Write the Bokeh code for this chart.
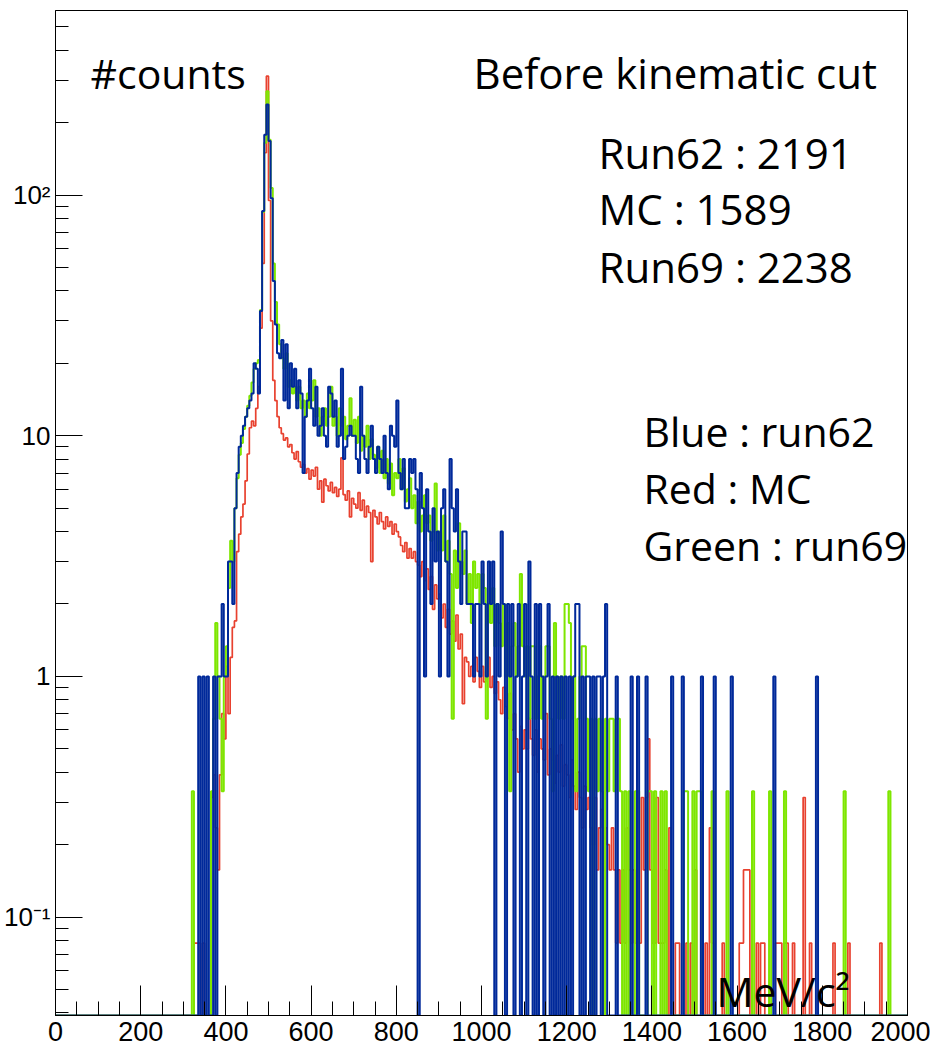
from bokeh.plotting import figure
from bokeh.models import Range1d, FixedTicker, Label
from bokeh.embed import file_html
from bokeh.resources import INLINE

# ---------------- data (5 MeV bins, listed from 300 MeV to 2000 MeV) ----------------
BIN_WIDTH = 5
FIRST_EDGE = 300
X_START, X_END = 0, 2000
Y_MIN, Y_MAX = 0.039, 585.0

# Blue : run62 (raw counts)
blue_counts = [
    0, 0, 0, 0, 0, 0, 0, 1, 0, 1, 0, 1, 0, 0, 1, 0, 1, 1, 2, 1,            # 300-395
    1, 3, 3, 2, 5, 7, 9, 10, 11, 12, 13, 14, 15, 20, 19, 15, 33, 86, 178, 238,  # 400-495
    168, 97, 44, 29, 22, 21, 25, 14, 24, 13, 20, 16, 19, 13, 17, 15, 7, 12, 14, 19,  # 500
    13, 11, 16, 10, 11, 13, 10, 9, 16, 15, 12, 14, 9, 10, 19, 8, 9, 10, 11, 10,  # 600
    10, 8, 7, 16, 10, 8, 7, 9, 11, 8, 7, 9, 8, 7, 10, 7, 6, 11, 10, 9,       # 700
    14, 7, 6, 8, 5, 5, 8, 7, 8, 6, 0, 7, 5, 1, 6, 4, 2, 5, 3, 4,             # 800
    1, 5, 6, 3, 1, 8, 5, 4, 6, 3, 2, 4, 4, 2, 2, 2, 1, 2, 2, 1,              # 900
    3, 2, 1, 3, 2, 3, 0, 2, 1, 4, 2, 0, 2, 1, 2, 0, 1, 2, 0, 1,              # 1000
    2, 0, 3, 1, 0, 2, 0, 2, 1, 0, 1, 2, 0, 1, 0, 1, 0, 1, 0, 1,              # 1100
    0, 1, 0, 1, 2, 2, 0, 1, 0, 1, 1, 0, 1, 0, 1, 1, 0, 1, 2, 0,              # 1200
    0, 0, 0, 1, 0, 0, 0, 0, 0, 0, 1, 0, 0, 1, 0, 0, 0, 1, 0, 0,              # 1300
    0, 0, 0, 0, 0, 0, 0, 0, 0, 1, 0, 0, 0, 0, 1, 0, 0, 0, 0, 0,              # 1400
    0, 0, 0, 1, 0, 0, 0, 0, 0, 1, 0, 0, 0, 0, 0, 0, 0, 1, 0, 0,              # 1500
    0, 0, 0, 0, 0, 0, 0, 0, 0, 0, 0, 0, 0, 0, 0, 0, 0, 1, 0, 0,              # 1600
    0, 0, 0, 0, 0, 0, 0, 0, 0, 0, 0, 0, 0, 0, 0, 0, 0, 1, 0, 0,              # 1700
    0, 0, 0, 0, 0, 0, 0, 0, 0, 0, 0, 0, 0, 0, 0, 0, 0, 0, 0, 0,              # 1800
    0, 0, 0, 0, 0, 0, 0, 0, 0, 0, 0, 0, 0, 0, 0, 0, 0, 0, 0, 0,              # 1900
]

# Green : run69 (raw counts, each entry weighted by GREEN_WEIGHT)
GREEN_WEIGHT = 1.0 / 3.0
green_counts = [
    0, 0, 0, 0, 1, 0, 0, 0, 0, 0, 0, 0, 0, 1, 2, 5, 3, 2, 1, 3,              # 300
    4, 7, 11, 9, 15, 20, 25, 28, 32, 36, 40, 44, 50, 57, 60, 62, 100, 255, 495, 810,  # 400
    510, 321, 156, 108, 87, 72, 63, 57, 66, 48, 51, 45, 48, 42, 48, 39, 42, 36, 45, 39,  # 500
    42, 51, 36, 39, 30, 36, 39, 33, 36, 48, 33, 36, 30, 39, 33, 36, 29, 33, 43, 30,  # 600
    35, 28, 36, 26, 30, 27, 33, 24, 29, 25, 22, 27, 21, 26, 20, 24, 19, 23, 17, 21,  # 700
    20, 24, 18, 22, 16, 18, 20, 15, 17, 13, 16, 12, 14, 17, 13, 14, 11, 12, 19, 10,  # 800
    12, 10, 14, 9, 11, 8, 2, 10, 7, 13, 9, 8, 10, 6, 8, 5, 9, 7, 8, 6,       # 900
    8, 7, 2, 6, 5, 7, 4, 6, 5, 4, 6, 3, 5, 1, 4, 5, 3, 4, 8, 4,              # 1000
    3, 4, 2, 4, 4, 2, 3, 4, 2, 3, 4, 4, 2, 1, 5, 3, 2, 3, 2, 6,              # 1100
    6, 5, 2, 3, 1, 2, 3, 4, 4, 2, 1, 2, 0, 2, 1, 2, 1, 0, 2, 1,              # 1200
    2, 2, 1, 2, 2, 1, 0, 1, 0, 1, 0, 0, 1, 1, 0, 0, 0, 0, 1, 1,              # 1300
    0, 1, 0, 0, 1, 0, 1, 0, 0, 0, 0, 0, 0, 0, 0, 1, 1, 0, 0, 1,              # 1400
    0, 1, 1, 0, 0, 0, 0, 0, 1, 0, 0, 0, 0, 0, 0, 1, 0, 0, 0, 0,              # 1500
    0, 0, 0, 0, 0, 0, 0, 1, 0, 0, 0, 0, 0, 0, 0, 1, 0, 0, 0, 0,              # 1600
    0, 0, 1, 0, 0, 0, 0, 0, 0, 0, 0, 0, 0, 0, 0, 0, 0, 0, 0, 0,              # 1700
    0, 0, 0, 0, 0, 0, 0, 0, 0, 0, 1, 0, 0, 0, 0, 0, 0, 0, 0, 0,              # 1800
    0, 0, 0, 0, 0, 0, 0, 0, 0, 0, 0, 1, 0, 0, 0, 0, 0, 0, 0, 0,              # 1900
]

# Red : MC (weighted entries)
red_values = [
    0, 0, 0, 0, 0, 0.078, 0.078, 0.078, 0, 0.078, 0, 0, 0, 0.314, 0.39, 0.235, 0.157, 0.39, 0.7, 0.55,  # 300
    1.1, 0.7, 1.2, 1.6, 1.7, 3.3, 3.9, 4.6, 5.2, 6.5, 8.4, 10.8, 11.5, 11.0, 13.0, 16.0, 28.0, 52.0, 150.0, 312.0,  # 400
    95, 30, 17, 14, 12, 10.8, 10.2, 9.6, 9.8, 9.0, 9.2, 8.5, 8.0, 8.6, 7.8, 7.4, 7.6, 7.0, 7.3, 6.6,  # 500
    7.2, 6.8, 7.4, 6.0, 6.5, 5.3, 6.6, 6.2, 5.9, 6.4, 5.8, 6.1, 5.6, 6.0, 8.1, 5.7, 5.4, 5.9, 4.6, 5.5,  # 600
    5.2, 5.0, 5.8, 4.9, 5.4, 4.6, 5.1, 4.8, 3.0, 4.9, 4.6, 4.3, 4.8, 4.4, 4.1, 4.6, 4.2, 4.4, 3.9, 4.3,  # 700
    4.0, 3.8, 3.5, 3.3, 3.6, 3.1, 3.4, 3.1, 3.3, 3.0, 2.9, 2.6, 3.0, 2.5, 2.8, 2.3, 2.6, 1.9, 2.4, 2.1,  # 800
    2.2, 1.75, 2.0, 1.6, 1.9, 1.5, 1.7, 1.4, 1.8, 1.3, 1.5, 0.77, 1.2, 1.15, 1.0, 1.1, 0.95, 1.2, 1.05, 0.9,  # 900
    1.1, 0.95, 1.05, 1.2, 0.9, 1.0, 0.85, 0.95, 0.8, 0.7, 0.9, 0.75, 0.67, 0.85, 0.6, 0.7, 0.55, 0.4, 0.62, 0.5,  # 1000
    0.6, 0.5, 0.67, 0.55, 0.47, 0.6, 0.4, 0.55, 0.5, 0.45, 0.7, 0.39, 0.5, 0.45, 0.36, 0.47, 0.4, 0.52, 0.35, 0.43,  # 1100
    0.39, 0.314, 0.45, 0.35, 0.28, 0.4, 0.314, 0.235, 0.35, 0.28, 0.314, 0.235, 0.2, 0.314, 0.157, 0.235, 0.28, 0.157, 0.235, 0.2,  # 1200
    0.157, 0.235, 0.157, 0.078, 0.157, 0.078, 0.157, 0.078, 0.235, 0.157, 0.078, 0.157, 0.078, 0.157, 0.078, 0.314, 0.157, 0.314, 0.55, 0.157,  # 1300
    0.078, 0.078, 0.314, 0.078, 0.078, 0.078, 0.157, 0, 0.235, 0, 0, 0.078, 0.078, 0, 0, 0, 0.078, 0, 0.078, 0,  # 1400
    0.157, 0, 0, 0, 0, 0.078, 0, 0.235, 0.078, 0, 0, 0, 0, 0.078, 0, 0, 0, 0, 0, 0,  # 1500
    0, 0.078, 0.078, 0.157, 0.157, 0.157, 0, 0, 0, 0.078, 0, 0.078, 0.078, 0, 0, 0, 0, 0, 0.078, 0.078,  # 1600
    0.078, 0, 0.078, 0.078, 0, 0, 0.078, 0, 0, 0, 0, 0.314, 0, 0, 0.078, 0, 0, 0, 0, 0,  # 1700
    0, 0, 0, 0, 0, 0.078, 0, 0, 0, 0, 0, 0, 0.078, 0, 0, 0, 0, 0, 0, 0,  # 1800
    0, 0, 0, 0, 0, 0, 0, 0.078, 0, 0, 0, 0, 0, 0, 0, 0, 0, 0, 0, 0,  # 1900
]

X_TICKS = [0, 200, 400, 600, 800, 1000, 1200, 1400, 1600, 1800, 2000]
X_TICK_LABELS = ["0", "200", "400", "600", "800", "1000", "1200", "1400", "1600", "1800", "2000"]
Y_TICKS = [0.1, 1, 10, 100]
Y_TICK_LABELS = ["10\u207b\u00b9", "1", "10", "10\u00b2"]

TEXTS = ["#counts", "Before kinematic cut", "Run62 : 2191", "MC : 1589", "Run69 : 2238",
         "Blue : run62", "Red : MC", "Green : run69", "MeV/c\u00b2"]

# ---------------- build step outlines ----------------
n_before = (FIRST_EDGE - X_START) // BIN_WIDTH
n_bins = (X_END - X_START) // BIN_WIDTH
edges = [X_START + i * BIN_WIDTH for i in range(n_bins + 1)]


def outline(values):
    full = [0.0] * n_before + list(values)
    full = [v if v > 0 else Y_MIN for v in full]  # empty bins sit on the frame bottom
    return edges, full + [full[-1]]


blue_vals = blue_counts
green_vals = [c * GREEN_WEIGHT for c in green_counts]
red_vals = red_values

W, H = 930, 1061
p = figure(width=W, height=H, x_range=Range1d(X_START, X_END), y_range=Range1d(Y_MIN, Y_MAX),
           y_axis_type="log", output_backend="svg", toolbar_location=None,
           min_border_left=55, min_border_right=23, min_border_top=10, min_border_bottom=46)
p.grid.visible = False
p.outline_line_color = "black"
p.outline_line_width = 1
p.background_fill_color = "white"
p.border_fill_color = "white"

TICK_FONT = "Liberation Sans Narrow, Liberation Sans"

xa = p.xaxis[0]
xa.ticker = FixedTicker(ticks=X_TICKS, minor_ticks=list(range(X_START, X_END + 1, 50)))
xa.major_label_overrides = dict(zip(X_TICKS, X_TICK_LABELS))
xa.major_tick_in = 30
xa.major_tick_out = 0
xa.minor_tick_in = 14
xa.minor_tick_out = 0
xa.major_label_standoff = 6
xa.major_label_text_font = TICK_FONT
xa.major_label_text_font_size = "27px"
xa.major_label_text_color = "black"
xa.axis_line_color = "black"

y_minor = [m * 10.0 ** e for e in range(-2, 3) for m in range(2, 10)]
y_minor = [v for v in y_minor if Y_MIN <= v <= Y_MAX]
ya = p.yaxis[0]
ya.ticker = FixedTicker(ticks=Y_TICKS, minor_ticks=y_minor)
ya.major_label_overrides = dict(zip(Y_TICKS, Y_TICK_LABELS))
ya.major_tick_in = 27
ya.major_tick_out = 0
ya.minor_tick_in = 13
ya.minor_tick_out = 0
ya.major_label_standoff = 5
ya.major_label_text_font = TICK_FONT
ya.major_label_text_font_size = "26px"
ya.major_label_text_color = "black"
ya.axis_line_color = "black"

for vals, color, lw in [(red_vals, "#e8412f", 1.7),
                        (green_vals, "#7ee600", 2.0),
                        (blue_vals, "#00299a", 2.0)]:
    xs, ys = outline(vals)
    p.step(xs, ys, mode="after", line_color=color, line_width=lw)

# text positions in frame pixels (x from frame left, y up from frame bottom), and sizes
TEXT_POS = [(35, 943), (418, 943), (543, 863), (543, 807), (543, 749),
            (588, 585), (588, 528), (588, 471), (661, 25)]
TEXT_SIZE = ["41px", "42px", "42px", "42px", "42px", "41px", "41px", "41px", "41px"]
for t, (tx, ty), fs in zip(TEXTS, TEXT_POS, TEXT_SIZE):
    p.add_layout(Label(x=tx, y=ty, x_units="screen", y_units="screen", text=t,
                       text_font="Open Sans", text_font_size=fs, text_color="black",
                       text_align="left", text_baseline="alphabetic"))

open("out.html", "w").write(file_html(p, INLINE))
